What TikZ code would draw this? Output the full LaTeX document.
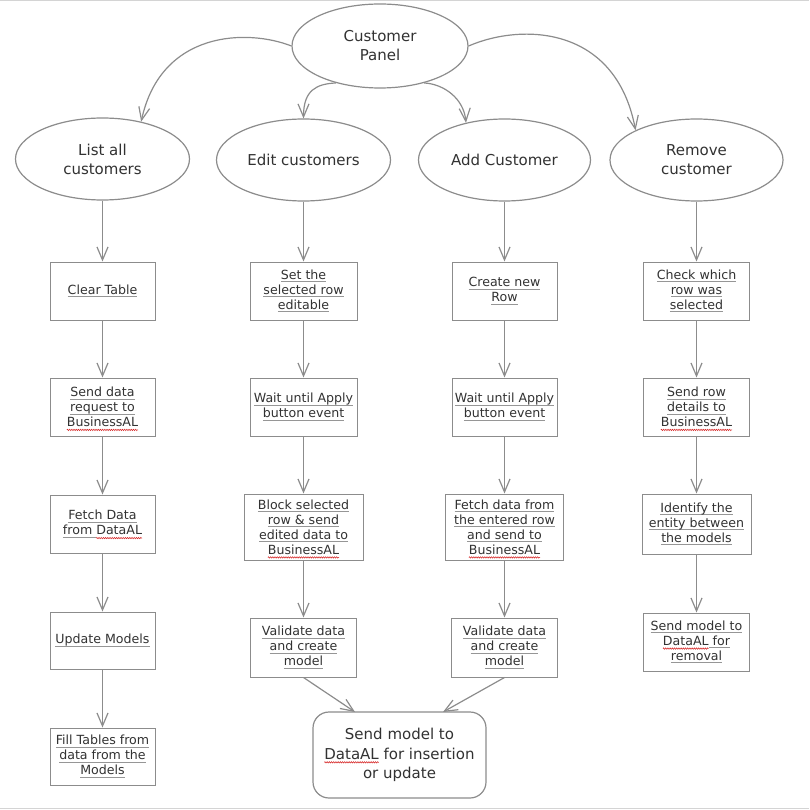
\documentclass[tikz,border=0pt]{standalone}
\usepackage{fontspec}
\setmainfont{DejaVu Sans}
\usetikzlibrary{arrows.meta,decorations.pathmorphing,shapes.geometric}

\definecolor{lc}{RGB}{140,140,140}
\definecolor{txt}{RGB}{50,50,50}
\definecolor{ulgray}{RGB}{150,150,150}
\definecolor{spell}{RGB}{215,40,40}
\definecolor{frame}{RGB}{212,212,212}

% underlined word (gray rule under the text)
\newsavebox\ulbox
\newlength\ulwidth
\newcommand\ulw[1]{\sbox\ulbox{#1}\rlap{\color{ulgray}\rule[-2.8pt]{\wd\ulbox}{0.8pt}}\usebox\ulbox}
% word with a red wavy spell mark
\newcommand\spl[1]{\sbox\ulbox{#1}\setlength\ulwidth{\wd\ulbox}%
  \rlap{\tikz[baseline=0pt,sharp corners]{\useasboundingbox (0pt,0pt);
    \draw[spell,line width=0.55pt,sharp corners,decorate,decoration={zigzag,amplitude=0.7pt,segment length=2.2pt}]
      (0pt,-3.2pt) -- (\the\ulwidth,-3.2pt);}}\usebox\ulbox}

\tikzset{
  arr/.style={draw=lc,line width=1.2pt,-{Straight Barb[length=13pt,width=11pt]}},
  oval/.style={ellipse,draw=lc,line width=1.2pt,fill=white,text=txt,align=center,
    font=\fontsize{15}{19}\selectfont,inner sep=0pt},
  stepbox/.style={rectangle,draw=lc,line width=1pt,fill=white,text=txt,align=center,
    font=\fontsize{12.6}{15}\selectfont,inner sep=0pt},
  endbox/.style={rectangle,rounded corners=16pt,draw=lc,line width=1.2pt,fill=white,text=txt,
    align=center,font=\fontsize{15}{19.5}\selectfont,inner sep=0pt},
}

\begin{document}
\begin{tikzpicture}[x=1pt,y=-1pt]
\useasboundingbox (0,0) rectangle (809,810);
\draw[frame,line width=1pt] (0,0.5) -- (809,0.5);
\draw[frame,line width=1pt] (0,808.5) -- (809,808.5);

% top level
\node[oval,minimum width=176pt,minimum height=84pt] (panel) at (380,46) {Customer\\Panel};
\node[oval,minimum width=174pt,minimum height=82pt] (list) at (102.5,159) {List all\\customers};
\node[oval,minimum width=174pt,minimum height=82pt] (edit) at (303.5,160) {Edit customers};
\node[oval,minimum width=172pt,minimum height=82pt] (add) at (504.5,160) {Add Customer};
\node[oval,minimum width=173pt,minimum height=82pt] (remove) at (696.5,160) {Remove\\customer};

% list column
\node[stepbox,minimum width=105pt,minimum height=58pt] (clear) at (102.5,291) {\ulw{Clear Table}};
\node[stepbox,minimum width=105pt,minimum height=58pt] (sendreq) at (102.5,407) {\ulw{Send data}\\\ulw{request to}\\\spl{BusinessAL}};
\node[stepbox,minimum width=105pt,minimum height=58pt] (fetch) at (102.5,524) {\ulw{Fetch Data}\\\ulw{from }\spl{DataAL}};
\node[stepbox,minimum width=105pt,minimum height=57pt] (update) at (102.5,640.5) {\ulw{Update Models}};
\node[stepbox,minimum width=105pt,minimum height=57pt] (fill) at (102.5,756.5) {\ulw{Fill Tables from}\\\ulw{data from the}\\\ulw{Models}};

% edit column
\node[stepbox,minimum width=107pt,minimum height=58pt] (setrow) at (303.5,291) {\ulw{Set the}\\\ulw{selected row}\\\ulw{editable}};
\node[stepbox,minimum width=107pt,minimum height=58pt] (waitA) at (303.5,407) {\ulw{Wait until Apply}\\\ulw{button event}};
\node[stepbox,minimum width=119pt,minimum height=66pt] (block) at (303.5,527) {\ulw{Block selected}\\\ulw{row \& send}\\\ulw{edited data to}\\\spl{BusinessAL}};
\node[stepbox,minimum width=106pt,minimum height=59pt] (validA) at (303.5,647.5) {\ulw{Validate data}\\\ulw{and create}\\\ulw{model}};

% add column
\node[stepbox,minimum width=105pt,minimum height=58pt] (create) at (504.5,291) {\ulw{Create new}\\\ulw{Row}};
\node[stepbox,minimum width=105pt,minimum height=58pt] (waitB) at (504.5,407) {\ulw{Wait until Apply}\\\ulw{button event}};
\node[stepbox,minimum width=118pt,minimum height=66pt] (fetchB) at (504.5,527) {\ulw{Fetch data from}\\\ulw{the entered row}\\\ulw{and send to}\\\spl{BusinessAL}};
\node[stepbox,minimum width=106pt,minimum height=59pt] (validB) at (504.5,647.5) {\ulw{Validate data}\\\ulw{and create}\\\ulw{model}};

% remove column
\node[stepbox,minimum width=106pt,minimum height=58pt] (check) at (696.5,291) {\ulw{Check which}\\\ulw{row was}\\\ulw{selected}};
\node[stepbox,minimum width=106pt,minimum height=58pt] (sendrow) at (696.5,407) {\ulw{Send row}\\\ulw{details to}\\\spl{BusinessAL}};
\node[stepbox,minimum width=109pt,minimum height=60pt] (identify) at (696.5,524) {\ulw{Identify the}\\\ulw{entity between}\\\ulw{the models}};
\node[stepbox,minimum width=106pt,minimum height=58pt] (sendrem) at (696.5,642) {\ulw{Send model to}\\\spl{DataAL}\ulw{ for}\\\ulw{removal}};

% common end
\node[endbox,minimum width=173pt,minimum height=86pt] (final) at (399.5,755) {Send model to\\\spl{DataAL} for insertion\\or update};
\coordinate (inL) at (355,712);
\coordinate (inR) at (443,712);

% branches from the panel
\draw[arr] (panel.west) .. controls +(-43,-17) and +(20,-92) .. (list.44);
\draw[arr] (panel.220) .. controls +(-20,1) and +(0,-28) .. (edit.north);
\draw[arr] (panel.320) .. controls +(20,1) and +(-2,-24) .. (add.136);
\draw[arr] (panel.east) .. controls +(53,-23) and +(-20,-105) .. (remove.154);

% column flows
\draw[arr] (list.south) -- (clear.north);
\draw[arr] (clear.south) -- (sendreq.north);
\draw[arr] (sendreq.south) -- (fetch.north);
\draw[arr] (fetch.south) -- (update.north);
\draw[arr] (update.south) -- (fill.north);

\draw[arr] (edit.south) -- (setrow.north);
\draw[arr] (setrow.south) -- (waitA.north);
\draw[arr] (waitA.south) -- (block.north);
\draw[arr] (block.south) -- (validA.north);

\draw[arr] (add.south) -- (create.north);
\draw[arr] (create.south) -- (waitB.north);
\draw[arr] (waitB.south) -- (fetchB.north);
\draw[arr] (fetchB.south) -- (validB.north);

\draw[arr] (remove.south) -- (check.north);
\draw[arr] (check.south) -- (sendrow.north);
\draw[arr] (sendrow.south) -- (identify.north);
\draw[arr] (identify.south) -- (sendrem.north);

\draw[arr] (validA.south) -- (inL);
\draw[arr] (validB.south) -- (inR);
\end{tikzpicture}
\end{document}
